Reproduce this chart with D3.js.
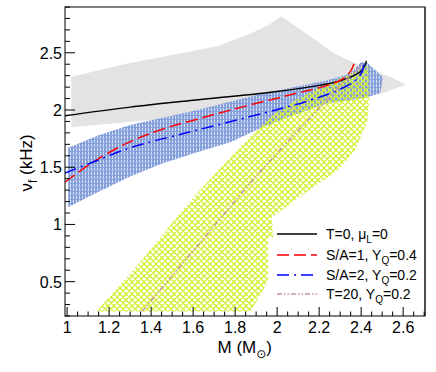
<!DOCTYPE html>
<html><head><meta charset="utf-8">
<script src="https://cdn.jsdelivr.net/npm/d3@7"></script>
<style>body{margin:0;background:#fff}svg{display:block}text{font-family:"Liberation Sans",Arial,sans-serif}</style>
</head><body>
<svg id="c" width="436" height="372"></svg>
<script>
// ---- data ----
const xTicks = [1, 1.2, 1.4, 1.6, 1.8, 2, 2.2, 2.4, 2.6];
const xTickLabels = ["1", "1.2", "1.4", "1.6", "1.8", "2", "2.2", "2.4", "2.6"];
const yTicks = [0.5, 1, 1.5, 2, 2.5];
const yTickLabels = ["0.5", "1", "1.5", "2", "2.5"];

// T=0, mu_L=0  (M, nu_f)
const curveT0 = [[0.99,1.95],[1.3,2.025],[1.6,2.085],[1.97,2.155],[2.2,2.215],[2.3,2.255],[2.36,2.295],[2.40,2.34],[2.418,2.39],[2.425,2.43]];
// S/A=1, Y_Q=0.4
const curveSA1 = [[0.99,1.37],[1.124,1.545],[1.285,1.71],[1.45,1.83],[1.62,1.92],[1.8,2.01],[1.97,2.09],[2.1,2.15],[2.24,2.215],[2.31,2.27],[2.35,2.34],[2.37,2.425]];
// S/A=2, Y_Q=0.2
const curveSA2 = [[0.99,1.45],[1.124,1.545],[1.3,1.67],[1.62,1.825],[1.93,1.97],[2.157,2.085],[2.31,2.19],[2.38,2.27],[2.405,2.34],[2.415,2.41]];
// T=20, Y_Q=0.2
const curveT20 = [[1.357,0.24],[1.633,0.84],[1.919,1.46],[2.157,1.93],[2.31,2.23],[2.39,2.37],[2.41,2.41]];

// shaded bands (polygon outlines)
const bandGray = [[1.02,2.29],[1.3,2.41],[1.5,2.48],[1.72,2.56],[1.876,2.67],[1.957,2.74],[2.02,2.82],[2.133,2.676],[2.276,2.49],[2.433,2.36],[2.543,2.287],[2.614,2.22],[2.514,2.155],[2.42,2.11],[2.1,2.05],[1.8,2.0],[1.5,1.93],[1.02,1.85]];
const bandBlue = [[1.005,1.67],[1.15,1.78],[1.3,1.87],[1.62,2.0],[1.92,2.14],[2.24,2.26],[2.35,2.32],[2.40,2.42],[2.43,2.41],[2.505,2.285],[2.49,2.145],[2.40,2.10],[2.24,2.06],[2.076,1.955],[1.93,1.85],[1.78,1.72],[1.62,1.63],[1.45,1.53],[1.3,1.42],[1.2,1.33],[1.1,1.24],[1.005,1.15]];
const bandYellow = [[1.14,0.24],[1.36,0.695],[1.538,1.10],[1.633,1.30],[1.81,1.65],[1.967,1.94],[2.1,2.1],[2.24,2.23],[2.39,2.345],[2.41,2.40],[2.435,2.37],[2.44,2.12],[2.43,1.9],[2.371,1.65],[2.295,1.48],[2.12,1.26],[1.975,1.06],[1.985,0.8],[1.955,0.5],[1.875,0.24]];

const legendLabels = [
  {name:"T=0, ", sym:"μ", sub:"L", rest:"=0"},
  {name:"S/A=1, ", sym:"Y", sub:"Q", rest:"=0.4"},
  {name:"S/A=2, ", sym:"Y", sub:"Q", rest:"=0.2"},
  {name:"T=20, ", sym:"Y", sub:"Q", rest:"=0.2"}
];

// ---- layout ----
const L = 65, R = 425, T = 7, B = 316;
const x = d3.scaleLinear().domain([0.99, 2.704]).range([L, R]);
const y = d3.scaleLinear().domain([0.2, 2.9]).range([B, T]);

const svg = d3.select("#c");
const defs = svg.append("defs");
defs.append("clipPath").attr("id","clip").append("rect").attr("x",L).attr("y",T).attr("width",R-L).attr("height",B-T);

const pb = defs.append("pattern").attr("id","blueHatch").attr("patternUnits","userSpaceOnUse").attr("width",3).attr("height",4);
pb.append("rect").attr("width",3).attr("height",4).attr("fill","#86a0dc");
pb.append("rect").attr("x",1).attr("y",0).attr("width",1).attr("height",3).attr("fill","#d6dff4");

const py = defs.append("pattern").attr("id","yCross").attr("patternUnits","userSpaceOnUse").attr("width",6).attr("height",6);
py.append("path").attr("d","M0,0L6,6M6,0L0,6M-1,5L1,7M5,-1L7,1M-1,1L1,-1M5,7L7,5").attr("stroke","#d2ee2e").attr("stroke-width",1.3).attr("fill","none");

const g = svg.append("g").attr("clip-path","url(#clip)");
const poly = d3.line().x(d=>x(d[0])).y(d=>y(d[1]));
const smooth = d3.line().x(d=>x(d[0])).y(d=>y(d[1])).curve(d3.curveCatmullRom.alpha(0.5));

g.append("path").attr("d", poly(bandGray)+"Z").attr("fill","#e3e3e3");
g.append("path").attr("d", poly(bandBlue)+"Z").attr("fill","url(#blueHatch)");
g.append("path").attr("d", poly(bandYellow)+"Z").attr("fill","url(#yCross)");

const styles = [
  {data:curveT0, color:"#000000", dash:null, w:1.4},
  {data:curveSA1, color:"#ff0000", dash:"12,5", w:1.5},
  {data:curveSA2, color:"#0000ff", dash:"12,5,2,5", w:1.5},
  {data:curveT20, color:"#c49494", dash:"5,2,1.5,2,1.5,2", w:1.4}
];
styles.forEach(s=>{
  g.append("path").attr("d", smooth(s.data)).attr("fill","none").attr("stroke",s.color)
   .attr("stroke-width",s.w).attr("stroke-dasharray",s.dash);
});

// legend
const lg = svg.append("g");
lg.append("rect").attr("x",268).attr("y",238).attr("width",152).attr("height",68).attr("fill","#fff");
lg.append("rect").attr("x",274).attr("y",222).attr("width",146).attr("height",20).attr("fill","#fff");
const rowsY = [234, 255, 275, 294];
legendLabels.forEach((lab,i)=>{
  const ry = rowsY[i];
  lg.append("line").attr("x1",277).attr("x2",317).attr("y1",ry).attr("y2",ry)
    .attr("stroke",styles[i].color).attr("stroke-width",styles[i].w).attr("stroke-dasharray",styles[i].dash);
  const t = lg.append("text").attr("x",326).attr("y",ry+5).attr("font-size",14).attr("fill","#000");
  t.append("tspan").text(lab.name + lab.sym);
  t.append("tspan").attr("font-size",10).attr("dy",4).text(lab.sub);
  t.append("tspan").attr("dy",-4).text(lab.rest);
});

// axes frame
svg.append("rect").attr("x",L).attr("y",T).attr("width",R-L).attr("height",B-T).attr("fill","none").attr("stroke","#000").attr("stroke-width",1);
svg.append("line").attr("x1",R).attr("x2",R).attr("y1",T).attr("y2",B).attr("stroke","#444").attr("stroke-width",1.6);

// x ticks
const xMinor = d3.range(1.0, 2.701, 0.05);
svg.append("g").selectAll("line").data(xMinor).join("line")
  .attr("x1",d=>x(d)).attr("x2",d=>x(d)).attr("y1",B).attr("y2",d=>{
    const isMajor = Math.abs(Math.round(d*5)-d*5)<1e-6; return isMajor? B-9 : B-4.5;})
  .attr("stroke","#000").attr("stroke-width",1);
svg.append("g").selectAll("text").data(xTicks).join("text")
  .attr("x",d=>x(d)).attr("y",B+17).attr("text-anchor","middle").attr("font-size",16)
  .text((d,i)=>xTickLabels[i]);

// y ticks
const yMinor = d3.range(0.2, 2.901, 0.1);
svg.append("g").selectAll("line").data(yMinor).join("line")
  .attr("y1",d=>y(d)).attr("y2",d=>y(d)).attr("x1",L).attr("x2",d=>{
    const isMajor = Math.abs(Math.round(d*2)-d*2)<1e-6; return isMajor? L+10 : L+5;})
  .attr("stroke","#000").attr("stroke-width",1);
svg.append("g").selectAll("text").data(yTicks).join("text")
  .attr("x",L-3).attr("y",d=>y(d)+6).attr("text-anchor","end").attr("font-size",16)
  .text((d,i)=>yTickLabels[i]);

// axis titles
const xt = svg.append("text").attr("x",272).attr("y",353).attr("text-anchor","end").attr("font-size",17);
xt.append("tspan").text("M (M");
xt.append("tspan").attr("font-size",12).attr("dy",5).attr("font-family","DejaVu Sans").text("⊙");
xt.append("tspan").attr("dy",-5).text(")");

const yt = svg.append("text").attr("transform","translate(32,163) rotate(-90)").attr("text-anchor","middle").attr("font-size",17);
yt.append("tspan").text("ν");
yt.append("tspan").attr("font-size",12).attr("dy",5).text("f");
yt.append("tspan").attr("dy",-5).text(" (kHz)");
</script>
</body></html>
